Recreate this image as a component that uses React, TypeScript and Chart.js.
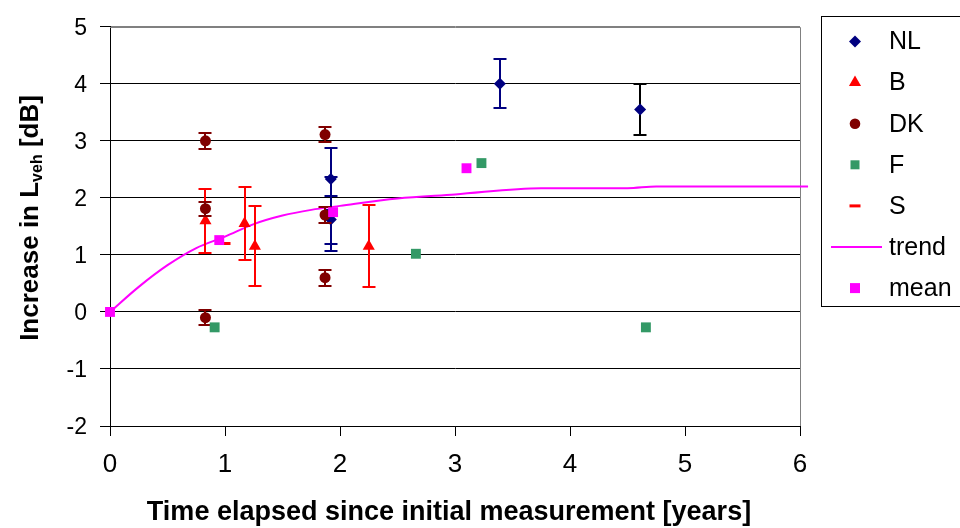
import React, { useEffect, useRef } from 'react';
import { Chart, registerables } from 'chart.js';

Chart.register(...registerables);

// ---------- data ----------
const X_MIN = 0;
const X_MAX = 6;
const Y_MIN = -2;
const Y_MAX = 5;

const NL_X = [1.92, 1.92, 1.92, 3.39, 4.61];
const NL_Y = [2.33, 1.62, 1.72, 4.0, 3.55];
const NL_ERR = [0.55, 0.42, 0.65, 0.43, 0.45];

const B_X = [0.83, 1.17, 1.26, 2.25];
const B_Y = [1.6, 1.55, 1.15, 1.15];
const B_ERR = [0.56, 0.64, 0.7, 0.72];

const DK_X = [0.83, 0.83, 0.83, 1.87, 1.87, 1.87];
const DK_Y = [3.0, 1.81, -0.1, 3.11, 1.7, 0.6];
const DK_ERR = [0.14, 0.12, 0.13, 0.13, 0.14, 0.14];

const F_X = [0.91, 2.66, 3.23, 4.66];
const F_Y = [-0.27, 1.02, 2.61, -0.27];

const S_X = [1.0];
const S_Y = [1.2];

const TREND_X = [0, 0.25, 0.5, 0.75, 1, 1.25, 1.5, 1.75, 2, 2.5, 3, 3.75, 4.5, 4.75, 6.07];
const TREND_Y = [0, 0.44, 0.82, 1.12, 1.32, 1.54, 1.69, 1.79, 1.86, 1.99, 2.06, 2.17, 2.17, 2.2, 2.2];

const MEAN_X = [0, 0.95, 1.94, 3.1];
const MEAN_Y = [0, 1.26, 1.75, 2.52];

const LEGEND_LABELS = ['NL', 'B', 'DK', 'F', 'S', 'trend', 'mean'];
const X_TITLE = 'Time elapsed since initial measurement [years]';
const Y_TITLE_MAIN = 'Increase in L';
const Y_TITLE_SUB = 'veh';
const Y_TITLE_END = ' [dB]';

// ---------- styles ----------
const FONT = "'Liberation Sans', Arial, sans-serif";
const NAVY = '#000080';
const RED = '#FF0000';
const DARKRED = '#800000';
const GREEN = '#339966';
const MAGENTA = '#FF00FF';
const NL_BAR_COLORS = [NAVY, NAVY, NAVY, NAVY, '#000000'];

const pts = (xs: number[], ys: number[]) => xs.map((x, i) => ({ x, y: ys[i] }));

function drawMarker(ctx: CanvasRenderingContext2D, kind: string, x: number, y: number, color: string) {
  ctx.save();
  ctx.fillStyle = color;
  ctx.strokeStyle = color;
  ctx.beginPath();
  if (kind === 'diamond') {
    const r = 6;
    ctx.moveTo(x - r, y); ctx.lineTo(x, y - r); ctx.lineTo(x + r, y); ctx.lineTo(x, y + r); ctx.closePath(); ctx.fill();
  } else if (kind === 'triangle') {
    const r = 7;
    ctx.moveTo(x, y - r);
    ctx.lineTo(x + r * Math.sin(2 * Math.PI / 3), y - r * Math.cos(2 * Math.PI / 3));
    ctx.lineTo(x + r * Math.sin(4 * Math.PI / 3), y - r * Math.cos(4 * Math.PI / 3));
    ctx.closePath(); ctx.fill();
  } else if (kind === 'circle') {
    ctx.arc(x, y, 5.3, 0, Math.PI * 2); ctx.fill();
  } else if (kind === 'square9') {
    ctx.rect(x - 4.5, y - 4.5, 9, 9); ctx.fill();
  } else if (kind === 'square10') {
    ctx.rect(x - 5, y - 5, 10, 10); ctx.fill();
  } else if (kind === 'dash') {
    ctx.rect(x - 5.5, y - 1.5, 11, 3); ctx.fill();
  } else if (kind === 'line') {
    ctx.lineWidth = 2;
    ctx.moveTo(831, y); ctx.lineTo(882, y); ctx.stroke();
  }
  ctx.restore();
}

const errorBarPlugin = {
  id: 'errorBars',
  beforeDatasetDraw(chart: any, args: any) {
    const ds = chart.data.datasets[args.index];
    if (!ds.errors) return;
    const ctx = chart.ctx;
    const yS = chart.scales.y;
    ctx.save();
    ctx.lineWidth = 2;
    args.meta.data.forEach((pt: any, i: number) => {
      const e = ds.errors[i];
      if (e == null) return;
      const v = ds.data[i].y;
      const yt = Math.round(yS.getPixelForValue(v + e));
      const yb = Math.round(yS.getPixelForValue(v - e));
      const x = Math.round(pt.x);
      ctx.strokeStyle = ds.errorColors ? ds.errorColors[i] : ds.borderColor;
      ctx.beginPath();
      ctx.moveTo(x, yt); ctx.lineTo(x, yb);
      ctx.moveTo(x - 6.5, yt); ctx.lineTo(x + 6.5, yt);
      ctx.moveTo(x - 6.5, yb); ctx.lineTo(x + 6.5, yb);
      ctx.stroke();
    });
    ctx.restore();
  },
};

const decorPlugin = {
  id: 'decor',
  beforeDatasetsDraw(chart: any) {
    const { ctx, chartArea } = chart;
    ctx.save();
    ctx.strokeStyle = '#808080';
    ctx.lineWidth = 1;
    ctx.beginPath();
    ctx.moveTo(chartArea.left, Math.round(chartArea.top) + 0.5);
    ctx.lineTo(Math.round(chartArea.right) + 0.5, Math.round(chartArea.top) + 0.5);
    ctx.lineTo(Math.round(chartArea.right) + 0.5, chartArea.bottom);
    ctx.stroke();
    ctx.restore();
  },
  afterDraw(chart: any) {
    const { ctx } = chart;
    ctx.save();
    // y title with subscript
    ctx.fillStyle = '#000';
    ctx.translate(38, 218);
    ctx.rotate(-Math.PI / 2);
    const big = `bold 26px ${FONT}`;
    const small = `bold 16px ${FONT}`;
    ctx.font = big;
    const w1 = ctx.measureText(Y_TITLE_MAIN).width;
    const w3 = ctx.measureText(Y_TITLE_END).width;
    ctx.font = small;
    const w2 = ctx.measureText(Y_TITLE_SUB).width;
    let x = -(w1 + w2 + w3) / 2;
    ctx.textBaseline = 'alphabetic';
    ctx.textAlign = 'left';
    ctx.font = big; ctx.fillText(Y_TITLE_MAIN, x, 0); x += w1;
    ctx.font = small; ctx.fillText(Y_TITLE_SUB, x, 4); x += w2;
    ctx.font = big; ctx.fillText(Y_TITLE_END, x, 0);
    ctx.restore();

    // x title
    ctx.save();
    ctx.fillStyle = '#000';
    ctx.font = `bold 27px ${FONT}`;
    ctx.textAlign = 'center';
    ctx.textBaseline = 'alphabetic';
    ctx.fillText(X_TITLE, 449, 520);
    ctx.restore();

    // legend
    ctx.save();
    ctx.strokeStyle = '#000';
    ctx.lineWidth = 1;
    ctx.strokeRect(821.5, 16.5, 200, 290);
    const kinds = ['diamond', 'triangle', 'circle', 'square9', 'dash', 'line', 'square10'];
    const colors = [NAVY, RED, DARKRED, GREEN, RED, MAGENTA, MAGENTA];
    ctx.font = `25px ${FONT}`;
    ctx.textAlign = 'left';
    ctx.textBaseline = 'middle';
    ctx.fillStyle = '#000';
    LEGEND_LABELS.forEach((lab, i) => {
      const y = 41.5 + i * 41.1;
      drawMarker(ctx, kinds[i], 855, y, colors[i]);
      ctx.fillStyle = '#000';
      ctx.fillText(lab, 889, y + 1);
    });
    ctx.restore();
  },
};

export default function App() {
  const ref = useRef<HTMLCanvasElement | null>(null);

  useEffect(() => {
    if (!ref.current) return;
    const chart = new Chart(ref.current, {
      type: 'scatter',
      data: {
        datasets: [
          {
            label: 'trend',
            data: pts(TREND_X, TREND_Y),
            showLine: true,
            borderColor: MAGENTA,
            backgroundColor: MAGENTA,
            borderWidth: 2,
            pointRadius: 0,
            cubicInterpolationMode: 'monotone',
            clip: false,
            order: 7,
          } as any,
          {
            label: 'NL',
            data: pts(NL_X, NL_Y),
            errors: NL_ERR,
            errorColors: NL_BAR_COLORS,
            pointStyle: 'rectRot',
            pointRadius: 6,
            borderWidth: 0,
            backgroundColor: NAVY,
            borderColor: NAVY,
            clip: false,
            order: 6,
          } as any,
          {
            label: 'B',
            data: pts(B_X, B_Y),
            errors: B_ERR,
            pointStyle: 'triangle',
            pointRadius: 7,
            borderWidth: 0,
            backgroundColor: RED,
            borderColor: RED,
            clip: false,
            order: 5,
          } as any,
          {
            label: 'DK',
            data: pts(DK_X, DK_Y),
            errors: DK_ERR,
            pointStyle: 'circle',
            pointRadius: 5.5,
            borderWidth: 0,
            backgroundColor: DARKRED,
            borderColor: DARKRED,
            clip: false,
            order: 4,
          } as any,
          {
            label: 'F',
            data: pts(F_X, F_Y),
            pointStyle: 'rect',
            pointRadius: 7,
            borderWidth: 0,
            backgroundColor: GREEN,
            borderColor: GREEN,
            clip: false,
            order: 3,
          } as any,
          {
            label: 'S',
            data: pts(S_X, S_Y),
            pointStyle: 'line',
            pointRadius: 5.5,
            borderWidth: 3,
            backgroundColor: RED,
            borderColor: RED,
            clip: false,
            order: 2,
          } as any,
          {
            label: 'mean',
            data: pts(MEAN_X, MEAN_Y),
            pointStyle: 'rect',
            pointRadius: 7,
            borderWidth: 0,
            backgroundColor: MAGENTA,
            borderColor: MAGENTA,
            clip: false,
            order: 1,
          } as any,
        ],
      },
      options: {
        animation: false,
        responsive: true,
        maintainAspectRatio: false,
        layout: { padding: { top: 17, right: 160, left: 0, bottom: 0 } },
        plugins: {
          legend: { display: false },
          tooltip: { enabled: false },
        },
        elements: { point: { hoverRadius: 0 } },
        scales: {
          x: {
            type: 'linear',
            min: X_MIN,
            max: X_MAX,
            afterFit: (s: any) => { s.height = 102; },
            ticks: {
              stepSize: 1,
              color: '#000',
              padding: 13,
              font: { family: FONT, size: 26 },
            },
            grid: {
              drawOnChartArea: false,
              drawTicks: true,
              tickLength: 10,
              tickColor: '#000',
              color: '#000',
            },
            border: { display: true, color: '#000', width: 1 },
          },
          y: {
            type: 'linear',
            min: Y_MIN,
            max: Y_MAX,
            afterFit: (s: any) => { s.width = 110; },
            ticks: {
              stepSize: 1,
              color: '#000',
              padding: 13,
              labelOffset: 2,
              font: { family: FONT, size: 23 },
            },
            grid: {
              drawTicks: true,
              tickLength: 10,
              tickColor: '#000',
              color: (c: any) => (c.tick && c.tick.value === Y_MAX ? '#808080' : '#000'),
            },
            border: { display: true, color: '#000', width: 1 },
          },
        },
      },
      plugins: [errorBarPlugin, decorPlugin],
    });
    return () => chart.destroy();
  }, []);

  return (
    <div style={{ position: 'absolute', left: 0, top: 0, width: 960, height: 528, background: '#fff' }}>
      <canvas ref={ref} style={{ display: 'block' }} />
    </div>
  );
}
